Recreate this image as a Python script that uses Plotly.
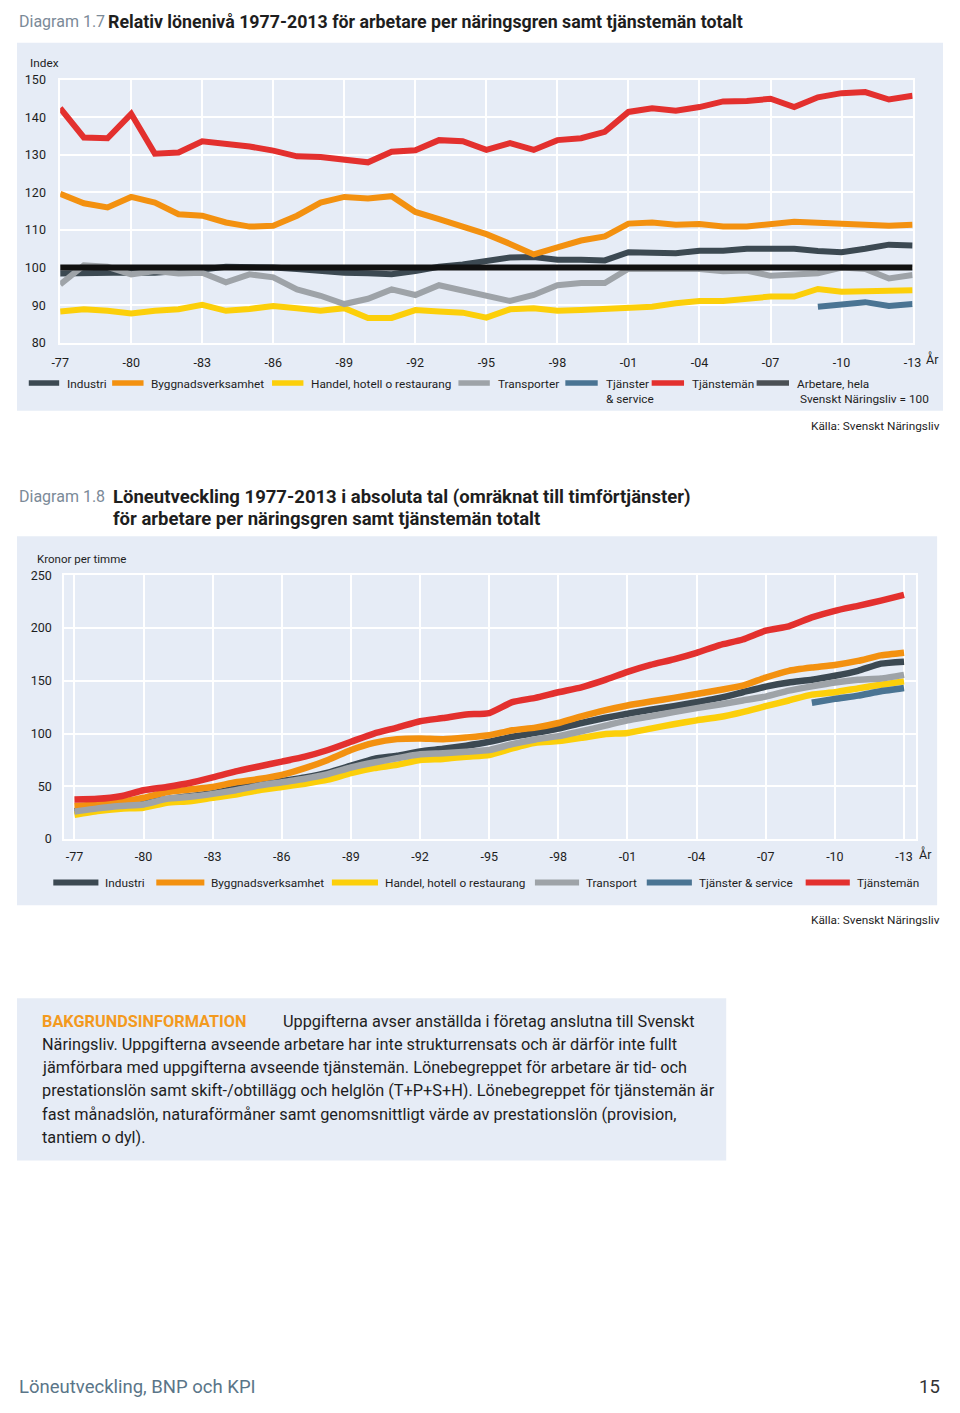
import plotly.graph_objects as go

# The page keeps an 8px body margin, so the figure is 16px smaller than the window
OFF = 8
W, H = 960 - 2 * OFF, 1413 - 2 * OFF
FONT = "Roboto, sans-serif"

years = list(range(1977, 2014))
years_ts = [2009, 2010, 2011, 2012, 2013]
base_years = [1977, 2013]
base_values = [100, 100]

# Diagram 1.7 – relative wage level (index, all workers = 100)
rel_industri = [98.4, 98.6, 98.8, 98.7, 98.6, 99.0, 99.5, 100.2, 100.2, 100.0,
                99.6, 99.0, 98.6, 98.5, 98.2, 99.1, 100.2, 100.8, 101.7, 102.7,
                102.8, 102.1, 102.1, 101.9, 104.1, 104.1, 103.8, 104.5, 104.5, 105.0,
                105.2, 105.0, 104.4, 104.1, 105.0, 106.1, 105.9]
rel_bygg = [119.6, 117.1, 116.0, 118.8, 117.3, 114.2, 113.8, 112.0, 110.9, 111.1,
            113.8, 117.3, 118.8, 118.4, 119.0, 114.8, 112.9, 110.9, 108.9, 106.3,
            103.5, 105.4, 107.2, 108.3, 111.7, 112.0, 111.4, 111.6, 110.9, 110.9,
            111.5, 112.2, 111.9, 111.6, 111.5, 111.1, 111.4]
rel_handel = [88.3, 88.9, 88.5, 87.8, 88.5, 88.9, 90.1, 88.5, 89.0, 89.8,
              89.2, 88.5, 89.2, 86.6, 86.6, 88.7, 88.3, 88.0, 86.7, 88.9,
              89.2, 88.5, 88.7, 88.9, 89.3, 89.6, 90.5, 91.1, 91.1, 91.7,
              92.3, 92.3, 94.3, 93.6, 93.6, 93.9, 94.0]
rel_transp = [95.5, 100.6, 100.2, 98.2, 99.1, 98.4, 98.6, 96.1, 98.2, 97.4,
              94.2, 92.5, 90.3, 91.7, 94.2, 92.7, 95.3, 94.0, 92.5, 91.1,
              92.7, 95.3, 95.9, 95.9, 99.7, 99.7, 99.7, 99.6, 99.0, 99.2,
              97.8, 98.2, 98.5, 100.0, 99.6, 97.1, 98.0]
rel_tjserv = [89.6, 90.3, 90.8, 89.8, 90.3]
rel_tjm = [142.4, 134.6, 134.4, 140.9, 130.3, 130.6, 133.6, 132.9, 132.2, 131.1,
           129.6, 129.4, 128.8, 128.0, 130.8, 131.2, 133.9, 133.6, 131.3, 133.1,
           131.3, 133.9, 134.4, 136.1, 141.4, 142.4, 141.7, 142.7, 144.2, 144.3,
           144.9, 142.7, 145.3, 146.4, 146.7, 144.7, 145.7]

# Diagram 1.8 – kronor per timme
kr_industri = [26.5, 29.8, 32.0, 34.0, 37.8, 40.5, 43.5, 48.0, 51.5, 55.0,
               58.5, 63.0, 69.5, 76.0, 79.0, 83.0, 85.5, 88.5, 92.2, 96.9,
               100.6, 104.7, 110.0, 114.7, 118.8, 122.5, 125.9, 129.7, 133.8, 139.1,
               144.4, 148.4, 150.9, 154.7, 159.4, 166.2, 168.1]
kr_bygg = [31.3, 32.8, 35.0, 39.1, 44.4, 46.9, 49.4, 53.8, 56.9, 60.9,
           67.2, 75.0, 84.4, 91.2, 94.7, 95.3, 94.7, 96.3, 98.4, 103.1,
           105.6, 110.0, 116.3, 121.9, 126.6, 130.3, 133.8, 137.5, 141.3, 145.3,
           153.1, 159.4, 162.5, 165.0, 168.8, 174.1, 176.6]
kr_handel = [23.1, 26.6, 28.8, 29.7, 34.4, 35.9, 39.1, 42.2, 46.3, 49.4,
             52.5, 56.3, 62.5, 67.2, 70.3, 75.0, 75.9, 78.1, 79.7, 85.9,
             91.2, 92.8, 95.9, 99.4, 100.6, 104.7, 108.8, 112.5, 115.6, 120.3,
             125.9, 131.3, 136.9, 139.1, 142.8, 146.3, 149.4]
kr_transp = [26.0, 29.1, 31.3, 32.8, 38.1, 40.0, 42.8, 46.3, 50.6, 53.8,
             57.2, 61.6, 67.8, 72.5, 76.6, 80.3, 81.3, 82.8, 84.4, 90.0,
             94.4, 97.5, 102.2, 107.2, 112.5, 116.3, 120.3, 124.1, 127.5, 131.3,
             135.0, 140.6, 144.7, 148.4, 150.9, 152.2, 155.6]
kr_tjserv = [129.1, 132.8, 135.9, 140.0, 143.1]
kr_tjm = [37.5, 38.1, 40.6, 46.3, 49.4, 53.1, 58.4, 64.1, 68.8, 73.4,
          78.1, 84.4, 92.2, 100.0, 105.6, 111.6, 114.7, 118.1, 119.4, 129.7,
          133.8, 139.1, 143.8, 150.6, 158.4, 165.0, 170.3, 176.5, 183.8, 189.1,
          197.5, 201.6, 210.0, 216.3, 221.0, 225.9, 231.3]

tick_years = [1977, 1980, 1983, 1986, 1989, 1992, 1995, 1998, 2001, 2004, 2007, 2010, 2013]
tick_text = ["-77", "-80", "-83", "-86", "-89", "-92", "-95", "-98", "-01", "-04", "-07", "-10", "-13"]
ticks1_y = [80, 90, 100, 110, 120, 130, 140, 150]
ticks2_y = [0, 50, 100, 150, 200, 250]

legend1_names = ["Industri", "Byggnadsverksamhet", "Handel, hotell o restaurang", "Transporter",
                 "Tjänster<br>& service", "Tjänstemän", "Arbetare, hela<br> Svenskt Näringsliv = 100"]
legend2_names = ["Industri", "Byggnadsverksamhet", "Handel, hotell o restaurang", "Transport",
                 "Tjänster & service", "Tjänstemän"]

C_IND = "#3c4952"
C_BYG = "#f39110"
C_HAN = "#fccf0a"
C_TRA = "#9ea3a8"
C_TJS = "#4a7493"
C_TJM = "#e3302e"
C_ARB = "#111111"
C_ARB_KEY = "#4b5054"
PANEL = "#e6ecf6"
TXT = "#1e1e1e"


def px(x):
    return min(max((x - OFF) / W, 0.0), 1.0)


def py(y):
    return min(max(1 - (y - OFF) / H, 0.0), 1.0)


fig = go.Figure()

series1 = [
    (legend1_names[0], years, rel_industri, C_IND),
    (legend1_names[1], years, rel_bygg, C_BYG),
    (legend1_names[2], years, rel_handel, C_HAN),
    (legend1_names[3], years, rel_transp, C_TRA),
    (legend1_names[4], years_ts, rel_tjserv, C_TJS),
    (legend1_names[5], years, rel_tjm, C_TJM),
    (legend1_names[6], base_years, base_values, C_ARB),
]
for name, xs, ys, col in series1:
    fig.add_trace(go.Scatter(x=xs, y=ys, name=name.replace("<br>", " "), mode="lines",
                             line=dict(color=col, width=6),
                             xaxis="x", yaxis="y", showlegend=False))

series2 = [
    (legend2_names[0], kr_industri, years, C_IND),
    (legend2_names[1], kr_bygg, years, C_BYG),
    (legend2_names[2], kr_handel, years, C_HAN),
    (legend2_names[3], kr_transp, years, C_TRA),
    (legend2_names[4], kr_tjserv, years_ts, C_TJS),
    (legend2_names[5], kr_tjm, years, C_TJM),
]
for name, ys, xs, col in series2:
    fig.add_trace(go.Scatter(x=xs, y=ys, name=name, mode="lines",
                             line=dict(color=col, width=6.5, shape="spline", smoothing=0.5),
                             xaxis="x2", yaxis="y2", showlegend=False))

axis_common = dict(showgrid=True, gridcolor="white", gridwidth=1.5, zeroline=False,
                   showline=True, linecolor="white", linewidth=1.5, mirror=True,
                   ticks="outside", tickcolor="rgba(0,0,0,0)",
                   tickfont=dict(family=FONT, size=12.5, color=TXT))

fig.update_layout(
    width=W, height=H, margin=dict(l=0, r=0, t=0, b=0),
    paper_bgcolor="white", plot_bgcolor="rgba(0,0,0,0)",
    font=dict(family=FONT, color=TXT),
    showlegend=False,
    xaxis=dict(domain=[px(52), px(921)], range=[1977, 2013], anchor="y",
               tickvals=tick_years, ticktext=tick_text, ticklen=7, **axis_common),
    yaxis=dict(domain=[py(338.3), py(72.3)], range=[80, 150], anchor="x",
               tickvals=ticks1_y, ticklen=10, **axis_common),
    xaxis2=dict(domain=[px(56), px(924)], range=[1976.55, 2013.5], anchor="y2",
                tickvals=tick_years, ticktext=tick_text, ticklen=5, **axis_common),
    yaxis2=dict(domain=[py(840), py(573.3)], range=[0, 250], anchor="x2",
                tickvals=ticks2_y, ticklen=8, **axis_common),
)

shapes = []
for (x0, y0, x1, y1) in [(6, 35, 955, 407), (6, 534, 946, 907), (6, 1001, 731, 1165)]:
    shapes.append(dict(type="rect", xref="paper", yref="paper",
                       x0=px(x0), x1=px(x1), y0=py(y1), y1=py(y0),
                       fillcolor=PANEL, line=dict(width=0), layer="below"))

ann = []


def add(text, x, y, size, color=TXT, xanchor="left", bold=False, yanchor="middle", align="left"):
    if bold:
        text = "<b>" + text + "</b>"
    ann.append(dict(text=text, x=px(x), y=py(y), xref="paper", yref="paper",
                    xanchor=xanchor, yanchor=yanchor, showarrow=False, align=align,
                    font=dict(family=FONT, size=size, color=color)))


# legend keys (drawn as swatch + label)
key1 = [(20, 51, C_IND), (105, 137, C_BYG), (268, 300, C_HAN), (458, 490, C_TRA),
        (567, 600, C_TJS), (655, 688, C_TJM), (762, 795, C_ARB_KEY)]
for (x0, x1, col), name in zip(key1, legend1_names):
    shapes.append(dict(type="line", xref="paper", yref="paper", x0=px(x0), x1=px(x1),
                       y0=py(379), y1=py(379), line=dict(color=col, width=5.5)))
    add(name, x1 + 6, 371, 11.8, yanchor="top")

key2 = [(45, 91, C_IND), (150, 199, C_BYG), (329, 376, C_HAN), (536, 581, C_TRA),
        (650, 696, C_TJS), (812, 857, C_TJM)]
for (x0, x1, col), name in zip(key2, legend2_names):
    shapes.append(dict(type="line", xref="paper", yref="paper", x0=px(x0), x1=px(x1),
                       y0=py(884), y1=py(884), line=dict(color=col, width=6)))
    add(name, x1 + 5, 884, 11.8)

fig.update_layout(shapes=shapes)

GREYBLUE = "#7b8a98"
add("Diagram 1.7", 8, 14, 16, GREYBLUE)
add("Relativ lönenivå 1977-2013 för arbetare per näringsgren samt tjänstemän totalt", 99, 14, 17.8, bold=True)
add("Index", 19, 56, 11.8)
add("År", 933, 355, 12.5)
add("Källa: Svenskt Näringsliv", 951, 422, 11.8, xanchor="right")

add("Diagram 1.8", 8, 494, 16, GREYBLUE)
add("Löneutveckling 1977-2013 i absoluta tal (omräknat till timförtjänster)", 104, 494, 18.5, bold=True)
add("för arbetare per näringsgren samt tjänstemän totalt", 104, 516, 18.5, bold=True)
add("Kronor per timme", 26, 557, 11.5)
add("År", 925, 855, 12.5)
add("Källa: Svenskt Näringsliv", 951, 922, 11.8, xanchor="right")

add("BAKGRUNDSINFORMATION", 31, 1024, 16.3, "#f39a1e", bold=True)
add("Uppgifterna avser anställda i företag anslutna till Svenskt", 277, 1024, 16.3)
box_lines = [
    "Näringsliv. Uppgifterna avseende arbetare har inte strukturrensats och är därför inte fullt",
    "jämförbara med uppgifterna avseende tjänstemän. Lönebegreppet för arbetare är tid- och",
    "prestationslön samt skift-/obtillägg och helglön (T+P+S+H). Lönebegreppet för tjänstemän är",
    "fast månadslön, naturaförmåner samt genomsnittligt värde av prestationslön (provision,",
    "tantiem o dyl).",
]
for i, t in enumerate(box_lines):
    add(t, 31, 1047.5 + i * 23.5, 16.3)

add("Löneutveckling, BNP och KPI", 8, 1394, 18.5, "#5a7588")
add("15", 951, 1394, 18.5, "#333333", xanchor="right")

fig.update_layout(annotations=ann)

fig.write_html("out.html", config={"displayModeBar": False})
